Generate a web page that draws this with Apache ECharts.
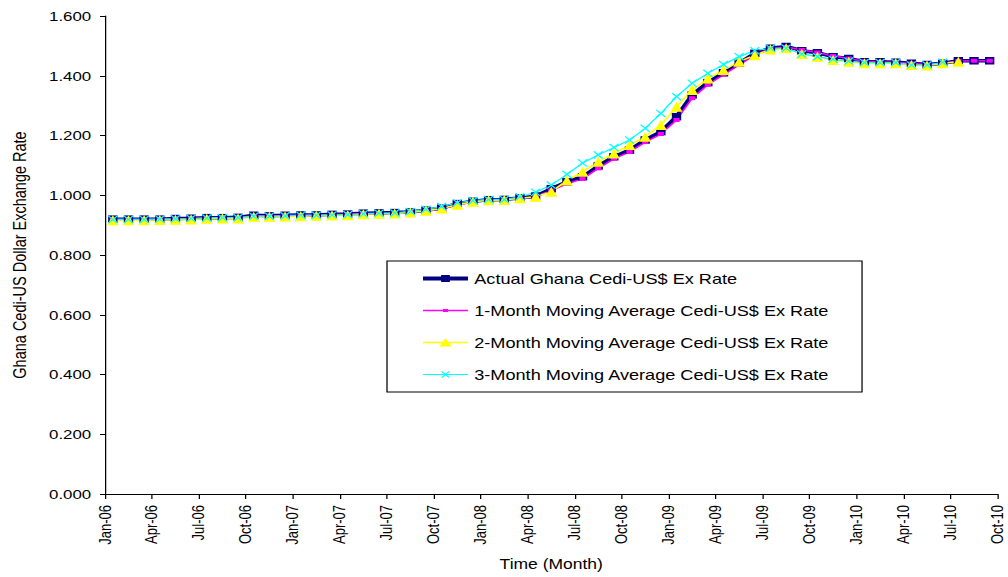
<!DOCTYPE html>
<html>
<head>
<meta charset="utf-8">
<title>Ghana Cedi-US Dollar Exchange Rate</title>
<script src="https://cdn.jsdelivr.net/npm/echarts@6/dist/echarts.min.js"></script>
<style>
  html, body { margin: 0; padding: 0; background: #fff; overflow: hidden; }
  /* the chart is laid out narrow and widened horizontally */
  #chart { width: 806.4px; height: 577px; transform: scaleX(1.25); transform-origin: 0 0; }
</style>
</head>
<body>
<div id="chart"></div>
<script>
// Monthly observations, Jan-06 .. Sep-10
const months = [
  'Jan-06','Feb-06','Mar-06','Apr-06','May-06','Jun-06','Jul-06','Aug-06','Sep-06','Oct-06','Nov-06','Dec-06',
  'Jan-07','Feb-07','Mar-07','Apr-07','May-07','Jun-07','Jul-07','Aug-07','Sep-07','Oct-07','Nov-07','Dec-07',
  'Jan-08','Feb-08','Mar-08','Apr-08','May-08','Jun-08','Jul-08','Aug-08','Sep-08','Oct-08','Nov-08','Dec-08',
  'Jan-09','Feb-09','Mar-09','Apr-09','May-09','Jun-09','Jul-09','Aug-09','Sep-09','Oct-09','Nov-09','Dec-09',
  'Jan-10','Feb-10','Mar-10','Apr-10','May-10','Jun-10','Jul-10','Aug-10','Sep-10'
];

// Labels on the quarterly tick marks of the time axis
const tickLabels = [
  'Jan-06','Apr-06','Jul-06','Oct-06','Jan-07','Apr-07','Jul-07','Oct-07','Jan-08','Apr-08',
  'Jul-08','Oct-08','Jan-09','Apr-09','Jul-09','Oct-09','Jan-10','Apr-10','Jul-10','Oct-10'
];

const actualRate = [
  0.920,0.920,0.920,0.920,0.922,0.923,0.925,0.925,0.926,0.933,0.931,0.933,
  0.934,0.934,0.936,0.937,0.940,0.941,0.942,0.944,0.950,0.957,0.972,0.980,
  0.985,0.986,0.991,0.997,1.022,1.045,1.062,1.098,1.129,1.151,1.185,1.213,
  1.263,1.336,1.377,1.410,1.442,1.475,1.492,1.498,1.484,1.477,1.464,1.458,
  1.447,1.447,1.445,1.442,1.438,1.442,1.450,1.450,1.450
];

const ma1Rate = [
  0.920,0.920,0.920,0.920,0.921,0.922,0.924,0.925,0.925,0.931,0.931,0.932,
  0.934,0.934,0.935,0.936,0.939,0.940,0.941,0.943,0.948,0.954,0.968,0.977,
  0.983,0.985,0.989,0.995,1.016,1.038,1.055,1.090,1.122,1.145,1.178,1.205,
  1.252,1.325,1.370,1.404,1.436,1.470,1.490,1.496,1.486,1.478,1.466,1.458,
  1.448,1.446,1.445,1.441,1.438,1.441,1.449,1.450,1.450
];

const ma2Rate = [
  0.916,0.916,0.916,0.917,0.918,0.919,0.921,0.922,0.922,0.928,0.928,0.929,
  0.930,0.931,0.932,0.933,0.936,0.938,0.939,0.942,0.948,0.956,0.968,0.978,
  0.983,0.984,0.990,0.995,1.012,1.049,1.079,1.112,1.140,1.168,1.196,1.235,
  1.296,1.352,1.391,1.419,1.447,1.469,1.488,1.492,1.473,1.464,1.453,1.447,
  1.442,1.442,1.442,1.436,1.434,1.442,1.447,null,null
];

const ma3Rate = [
  0.919,0.919,0.919,0.920,0.921,0.922,0.924,0.925,0.925,0.930,0.930,0.931,
  0.933,0.933,0.934,0.935,0.938,0.940,0.941,0.946,0.953,0.962,0.975,0.982,
  0.986,0.986,0.995,1.010,1.034,1.070,1.108,1.135,1.160,1.185,1.224,1.274,
  1.330,1.375,1.408,1.438,1.464,1.484,1.492,1.492,1.473,1.464,1.455,1.449,
  1.444,1.444,1.444,1.436,1.436,1.445,null,null,null
];

const seriesNames = [
  'Actual Ghana Cedi-US$ Ex Rate',
  '1-Month Moving Average Cedi-US$ Ex Rate',
  '2-Month Moving Average Cedi-US$ Ex Rate',
  '3-Month Moving Average Cedi-US$ Ex Rate'
];

const FONT = '"Liberation Sans", Arial, sans-serif';
const crossPath = 'path://M0,1L1,0L5,4L9,0L10,1L6,5L10,9L9,10L5,6L1,10L0,9L4,5Z';

// Legend keys drawn in a 36 x 14 box: a line sample with the marker in the middle.
// The two zero-length moves pin the box so the key is not rescaled.
const keyFrame = 'M0,0L0,0M36,14L36,14';
const legendKeys = [
  'path://' + keyFrame + 'M0,5L36,5L36,9L0,9Z M14.5,3.5L21.5,3.5L21.5,10.5L14.5,10.5Z',
  'path://' + keyFrame + 'M0,6.3L36,6.3L36,7.7L0,7.7Z M16,5.5L20,5.5L20,8.5L16,8.5Z',
  'path://' + keyFrame + 'M0,6.3L36,6.3L36,7.7L0,7.7Z M18,2.5L22.8,11L13.2,11Z',
  'path://' + keyFrame + 'M0,6.4L36,6.4L36,7.6L0,7.6Z M14.5,4.2L15.2,3.5L18,6.3L20.8,3.5L21.5,4.2L18.7,7L21.5,9.8L20.8,10.5L18,7.7L15.2,10.5L14.5,9.8L17.3,7Z'
];

const chart = echarts.init(document.getElementById('chart'), null, { renderer: 'svg' });

chart.setOption({
  animation: false,
  backgroundColor: '#ffffff',
  grid: { left: 81.6, right: 8, top: 16, bottom: 83 },
  legend: {
    orient: 'vertical',
    left: 309.6,
    top: 261,
    padding: [10, 26, 10, 28.8],
    itemWidth: 36,
    itemHeight: 14,
    itemGap: 17,
    backgroundColor: '#ffffff',
    borderColor: '#000000',
    borderWidth: 1,
    textStyle: { fontFamily: FONT, fontSize: 14.5, color: '#000000' },
    data: seriesNames.map((n, i) => ({ name: n, icon: legendKeys[i] }))
  },
  xAxis: [
    {
      type: 'category',
      data: months,
      boundaryGap: true,
      show: false
    },
    {
      type: 'value',
      position: 'bottom',
      min: 0,
      max: 57,
      interval: 3,
      name: 'Time (Month)',
      nameLocation: 'middle',
      nameGap: 63,
      nameTextStyle: { fontFamily: FONT, fontSize: 14, color: '#000000' },
      axisLine: { show: true, lineStyle: { color: '#000000', width: 1 } },
      axisTick: { show: true, length: 5, lineStyle: { color: '#000000' } },
      splitLine: { show: false },
      axisLabel: {
        rotate: 90,
        margin: 11,
        fontFamily: FONT,
        fontSize: 13,
        color: '#000000',
        formatter: v => tickLabels[Math.round(v / 3)] || ''
      }
    }
  ],
  yAxis: {
    type: 'value',
    min: 0,
    max: 1.6,
    interval: 0.2,
    name: 'Ghana Cedi-US Dollar Exchange Rate',
    nameLocation: 'middle',
    nameGap: 61,
    nameTextStyle: { fontFamily: FONT, fontSize: 14.5, color: '#000000' },
    axisLine: { show: true, lineStyle: { color: '#000000', width: 1 } },
    axisTick: { show: true, length: 4, lineStyle: { color: '#000000' } },
    splitLine: { show: false },
    axisLabel: {
      margin: 11,
      fontFamily: FONT,
      fontSize: 13.5,
      color: '#000000',
      formatter: v => v.toFixed(3)
    }
  },
  series: [
    {
      name: seriesNames[0],
      type: 'line',
      xAxisIndex: 0,
      data: actualRate,
      symbol: 'rect',
      symbolSize: 7.5,
      showAllSymbol: true,
      lineStyle: { color: '#000080', width: 3.5 },
      itemStyle: { color: '#000080' }
    },
    {
      name: seriesNames[1],
      type: 'line',
      xAxisIndex: 0,
      data: ma1Rate,
      symbol: 'rect',
      symbolSize: [5, 4],
      showAllSymbol: true,
      lineStyle: { color: '#FF00FF', width: 1.5 },
      itemStyle: { color: '#FF00FF' }
    },
    {
      name: seriesNames[2],
      type: 'line',
      xAxisIndex: 0,
      data: ma2Rate,
      symbol: 'triangle',
      symbolSize: [9.5, 10],
      showAllSymbol: true,
      lineStyle: { color: '#FFFF00', width: 1.5 },
      itemStyle: { color: '#FFFF00' }
    },
    {
      name: seriesNames[3],
      type: 'line',
      xAxisIndex: 0,
      data: ma3Rate,
      symbol: crossPath,
      symbolSize: 8,
      showAllSymbol: true,
      lineStyle: { color: '#00FFFF', width: 1.2 },
      itemStyle: { color: '#00FFFF' }
    }
  ]
});
</script>
</body>
</html>
